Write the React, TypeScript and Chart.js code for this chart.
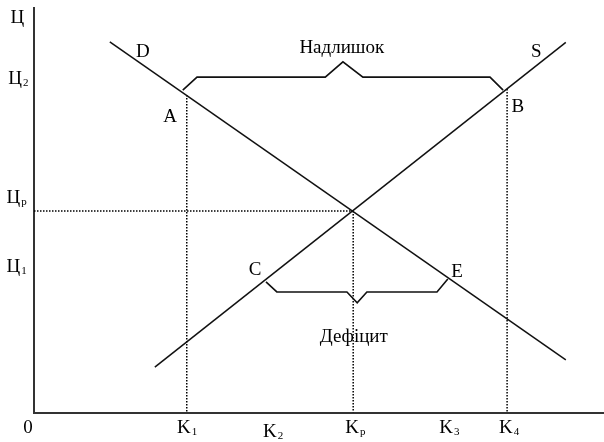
import React, { useEffect, useRef } from "react";
import { Chart, registerables } from "chart.js";

Chart.register(...registerables);

// Demand curve D and supply curve S (quantity, price) in chart units
const demandLine = [
  { x: 13.3, y: 91.6 },
  { x: 93.3, y: 13.0 },
];
const supplyLine = [
  { x: 21.2, y: 11.2 },
  { x: 93.3, y: 91.5 },
];

// Key quantities and prices
const K1 = 26.8;
const Kp = 56;
const K4 = 83;
const Pp = 49.8;
const priceA = 78.5;
const priceB = 80;

// Dotted guide lines
const guideK1 = [
  { x: K1, y: priceA },
  { x: K1, y: 0 },
];
const guideKp = [
  { x: Kp, y: Pp },
  { x: Kp, y: 0 },
];
const guideK4 = [
  { x: K4, y: priceB },
  { x: K4, y: 0 },
];
const guidePp = [
  { x: 0, y: Pp },
  { x: Kp, y: Pp },
];

// Braces: surplus (top) and deficit (bottom)
const surplusBrace = [
  { x: 26.1, y: 79.7 },
  { x: 28.6, y: 82.9 },
  { x: 51.1, y: 82.9 },
  { x: 54.2, y: 86.7 },
  { x: 57.7, y: 82.9 },
  { x: 80.0, y: 82.9 },
  { x: 82.3, y: 79.7 },
];
const deficitBrace = [
  { x: 40.7, y: 32.3 },
  { x: 42.6, y: 29.8 },
  { x: 54.9, y: 29.8 },
  { x: 56.7, y: 27.1 },
  { x: 58.4, y: 29.8 },
  { x: 70.7, y: 29.8 },
  { x: 72.6, y: 33.0 },
];

// Text labels: [main text, subscript, x (centre of main text), y (baseline)]
const axisLabels: [string, string, number, number][] = [
  ["Ц", "", -2.9, 96.3],
  ["Ц", "2", -3.3, 81.2],
  ["Ц", "р", -3.6, 51.8],
  ["Ц", "1", -3.6, 34.7],
  ["0", "", -1.05, -5.07],
  ["K", "1", 26.3, -5.07],
  ["K", "2", 41.4, -6.05],
  ["K", "р", 55.8, -5.07],
  ["K", "3", 72.3, -5.07],
  ["K", "4", 82.8, -5.07],
];
const pointLabels: [string, string, number, number][] = [
  ["D", "", 19.1, 87.9],
  ["S", "", 88.1, 87.9],
  ["A", "", 23.9, 71.8],
  ["B", "", 84.9, 74.3],
  ["C", "", 38.8, 34.0],
  ["E", "", 74.2, 33.5],
  ["Надлишок", "", 54.0, 88.9],
  ["Дефіцит", "", 56.1, 17.4],
];

const FONT = '"Liberation Serif", "DejaVu Serif", serif';

const labelPlugin = {
  id: "labels",
  afterDraw(chart: any) {
    const { ctx, scales } = chart;
    const xs = scales.x;
    const ys = scales.y;
    ctx.save();
    ctx.fillStyle = "#000";
    ctx.textBaseline = "alphabetic";
    const all = [...axisLabels, ...pointLabels];
    for (const [main, sub, xv, yv] of all) {
      const px = xs.getPixelForValue(xv);
      const py = ys.getPixelForValue(yv);
      ctx.font = `19px ${FONT}`;
      ctx.textAlign = "center";
      ctx.fillText(main, px, py);
      if (sub) {
        const w = ctx.measureText(main).width;
        ctx.font = `11px ${FONT}`;
        ctx.textAlign = "left";
        ctx.fillText(sub, px + w / 2 + 1, py + 2);
      }
    }
    ctx.restore();
  },
};

export default function App() {
  const ref = useRef<HTMLCanvasElement | null>(null);

  useEffect(() => {
    if (!ref.current) return;
    const solid = (data: { x: number; y: number }[], width = 1.5) => ({
      data,
      showLine: true,
      borderColor: "#111",
      borderWidth: width,
      pointRadius: 0,
      tension: 0,
      fill: false,
    });
    const dotted = (data: { x: number; y: number }[]) => ({
      data,
      showLine: true,
      borderColor: "#000",
      borderWidth: 1.5,
      borderDash: [1.5, 1.5],
      pointRadius: 0,
      fill: false,
    });
    const chart = new Chart(ref.current, {
      type: "scatter",
      data: {
        datasets: [
          solid(demandLine),
          solid(supplyLine),
          solid(surplusBrace, 1.6),
          solid(deficitBrace, 1.6),
          dotted(guideK1),
          dotted(guideKp),
          dotted(guideK4),
          dotted(guidePp),
        ] as any,
      },
      options: {
        animation: false,
        responsive: false,
        layout: { padding: { left: 34, top: 8, right: 0, bottom: 29.5 } },
        plugins: {
          legend: { display: false },
          tooltip: { enabled: false },
        },
        scales: {
          x: {
            type: "linear",
            min: 0,
            max: 100,
            ticks: { display: false },
            grid: { display: false, drawTicks: false },
            border: { display: true, color: "#333", width: 2 },
          },
          y: {
            type: "linear",
            min: 0,
            max: 100,
            ticks: { display: false },
            grid: { display: false, drawTicks: false },
            border: { display: true, color: "#333", width: 2 },
          },
        },
      },
      plugins: [labelPlugin],
    });
    return () => chart.destroy();
  }, []);

  return (
    <div style={{ position: "fixed", left: 0, top: 0, width: 604, height: 442, background: "#fff" }}>
      <canvas ref={ref} width={604} height={442} style={{ display: "block" }} />
    </div>
  );
}
